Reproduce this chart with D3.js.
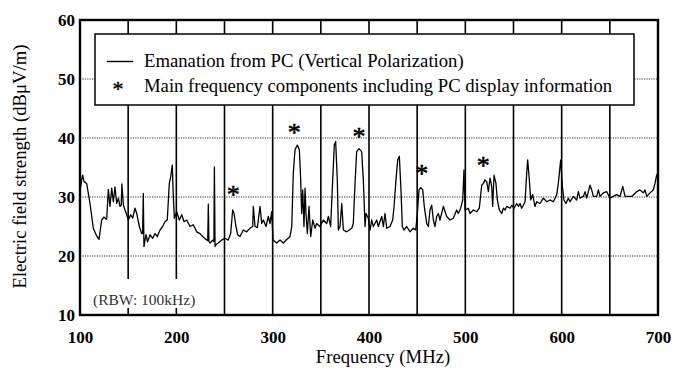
<!DOCTYPE html>
<html>
<head>
<meta charset="utf-8">
<script src="https://cdn.jsdelivr.net/npm/d3@7"></script>
<style>
    body { margin: 0; background: #fff; }
</style>
</head>
<body>
<div id="chart"></div>
<script>

var SERIF = "'Liberation Serif', 'Times New Roman', serif";

// axis ticks
var freqTicks = [100, 200, 300, 400, 500, 600, 700];
var levelTicks = [10, 20, 30, 40, 50, 60];
var gridFreqs = [150, 200, 250, 300, 350, 400, 450, 500, 550, 600, 650];
var gridLevels = [20, 30, 40, 50];

// measured trace (MHz, dBuV/m)
var freq = [100.0, 100.7, 101.7, 102.8, 104.2, 106.9, 110.4, 113.8, 117.3, 119.7,
    122.5, 124.9, 127.7, 129.4, 131.1, 132.9, 134.6, 136.3, 138.1, 139.8,
    141.5, 142.8, 143.5, 145.0, 146.7, 148.5, 150.2, 152.6, 154.7, 157.1,
    158.9, 161.6, 164.0, 165.0, 165.7, 166.4, 168.5, 170.2, 172.7, 175.5,
    177.9, 180.3, 183.0, 185.8, 188.2, 190.6, 192.7, 194.1, 195.8, 196.9,
    197.9, 200.4, 203.1, 205.6, 208.0, 210.8, 214.2, 217.6, 221.1, 224.6,
    227.4, 230.0, 232.6, 233.2, 233.8, 235.0, 237.7, 239.0, 239.5, 240.2,
    241.5, 243.6, 247.1, 250.5, 253.9, 256.4, 258.5, 259.9, 261.9, 263.7,
    266.1, 269.5, 273.0, 276.5, 279.3, 279.9, 281.7, 284.1, 286.9, 288.6,
    290.3, 293.1, 295.5, 297.2, 299.0, 300.4, 304.2, 307.6, 311.1, 314.6,
    318.0, 319.8, 321.4, 323.2, 325.6, 327.7, 329.1, 330.1, 331.2, 332.5,
    333.6, 334.6, 336.0, 337.7, 339.5, 341.6, 344.0, 345.7, 349.1, 352.6,
    356.1, 357.8, 360.2, 362.3, 364.0, 365.4, 367.1, 368.2, 369.9, 371.7,
    373.4, 376.9, 382.1, 383.7, 385.5, 387.2, 389.6, 392.4, 394.1, 395.9,
    396.9, 399.3, 401.1, 402.8, 404.5, 408.0, 409.7, 413.2, 414.9, 416.6,
    418.4, 421.8, 424.6, 426.0, 428.0, 429.8, 431.5, 433.2, 434.6, 436.3,
    439.1, 442.6, 446.0, 448.5, 450.2, 451.9, 453.7, 455.8, 457.4, 459.9,
    461.6, 463.3, 465.1, 466.8, 468.5, 470.3, 472.0, 473.7, 477.2, 480.7,
    484.1, 487.5, 491.0, 492.7, 495.2, 497.3, 498.6, 499.7, 503.1, 504.9,
    508.3, 511.8, 514.5, 517.0, 518.7, 520.4, 522.2, 523.9, 525.6, 527.4,
    528.4, 529.8, 531.8, 533.2, 535.3, 537.8, 539.5, 541.2, 543.0, 546.4,
    548.2, 550.5, 553.3, 555.1, 556.8, 558.5, 560.2, 562.0, 563.7, 564.7,
    566.4, 567.9, 569.9, 572.3, 574.1, 577.5, 581.0, 584.5, 587.9, 591.4,
    594.9, 596.5, 599.0, 600.7, 602.4, 604.5, 606.9, 608.7, 612.1, 615.6,
    617.3, 619.1, 622.5, 624.3, 626.0, 629.4, 631.2, 632.9, 636.4, 638.1,
    639.8, 643.2, 646.8, 650.2, 653.6, 657.1, 660.6, 663.4, 665.8, 669.2,
    672.7, 677.9, 681.3, 684.8, 686.5, 688.3, 691.7, 695.1, 696.9, 698.6,
    700.0];
var level = [31.9, 31.7, 32.9, 33.7, 32.6, 32.3, 28.9, 24.7, 23.4, 22.8,
    26.1, 26.6, 26.2, 31.3, 28.4, 31.5, 29.2, 31.7, 28.9, 29.8,
    28.4, 28.6, 32.2, 28.7, 27.8, 27.0, 26.1, 27.0, 26.4, 28.1,
    27.2, 25.0, 23.8, 23.8, 30.6, 21.6, 23.6, 22.4, 23.6, 23.0,
    23.8, 23.3, 24.4, 25.0, 25.8, 26.1, 32.3, 33.4, 35.4, 30.1,
    26.4, 27.5, 26.1, 27.0, 25.8, 26.1, 25.0, 25.3, 24.1, 23.8,
    23.3, 22.9, 22.6, 28.8, 22.5, 22.2, 22.7, 22.4, 35.1, 21.6,
    22.0, 22.2, 22.7, 23.0, 22.7, 23.8, 27.8, 27.2, 25.0, 23.6,
    23.3, 24.4, 24.1, 24.7, 25.0, 28.4, 25.0, 24.8, 28.4, 25.5,
    26.1, 25.0, 26.7, 25.5, 27.5, 22.7, 22.2, 22.7, 22.2, 22.8,
    23.3, 25.0, 34.0, 38.0, 38.8, 38.0, 32.9, 27.2, 31.2, 25.0,
    31.5, 27.2, 23.8, 28.4, 23.3, 26.1, 24.7, 25.5, 25.0, 26.1,
    25.5, 26.7, 25.0, 32.9, 38.8, 39.4, 32.9, 24.4, 25.0, 28.9,
    24.4, 24.1, 24.7, 25.5, 32.3, 37.7, 38.2, 37.7, 32.9, 25.0,
    27.2, 26.4, 24.4, 26.1, 25.0, 26.1, 25.0, 26.7, 25.0, 27.2,
    24.7, 25.0, 26.1, 28.4, 32.9, 36.3, 36.9, 31.2, 25.0, 24.4,
    25.0, 24.1, 24.7, 24.4, 27.2, 31.2, 31.6, 31.2, 28.4, 25.5,
    25.0, 27.8, 28.6, 26.1, 25.0, 26.7, 27.2, 26.1, 28.4, 26.7,
    26.1, 26.4, 27.8, 27.2, 28.1, 29.5, 34.6, 27.8, 28.1, 27.2,
    27.8, 27.5, 28.1, 32.0, 32.3, 32.9, 32.6, 30.9, 33.2, 31.8,
    28.4, 33.7, 32.3, 29.5, 27.8, 27.2, 28.1, 27.8, 28.4, 28.1,
    28.6, 28.1, 28.9, 28.4, 28.9, 28.1, 28.6, 29.2, 34.0, 36.3,
    33.0, 29.5, 30.4, 28.4, 29.2, 28.9, 29.8, 29.2, 29.5, 29.2,
    30.4, 32.3, 36.3, 31.8, 29.5, 28.9, 29.8, 29.2, 30.1, 29.5,
    30.9, 29.8, 30.1, 30.9, 29.8, 32.0, 31.2, 30.1, 30.1, 31.2,
    30.1, 30.7, 30.9, 29.8, 30.1, 30.4, 30.1, 31.8, 30.1, 30.1,
    30.1, 30.9, 31.2, 30.7, 31.2, 30.1, 30.7, 31.2, 32.3, 33.7,
    34.0];

// asterisk markers: main frequency components
var markFreq = [259.2, 322.5, 389.6, 454.7, 518.7];
var markLevel = [31.0, 41.5, 40.9, 34.5, 35.9];

var legendLabels = ["Emanation from PC (Vertical Polarization)",
    "Main frequency components including PC display information"];

var width = 675, height = 372;
var margin = {top: 20, right: 17, bottom: 57, left: 80};

var svg = d3.select("#chart").append("svg")
    .attr("width", width)
    .attr("height", height)
    .style("font-family", SERIF);

var x = d3.scaleLinear().domain([100, 700]).range([margin.left, width - margin.right]);
var y = d3.scaleLinear().domain([10, 60]).range([height - margin.bottom, margin.top]);

// dotted horizontal grid
svg.append("g").selectAll("line")
    .data(gridLevels)
    .enter().append("line")
    .attr("x1", x(100)).attr("x2", x(700))
    .attr("y1", function(d){ return y(d); })
    .attr("y2", function(d){ return y(d); })
    .attr("stroke", "#333")
    .attr("stroke-width", 1.2)
    .attr("stroke-dasharray", "1.2,1.2");

// solid vertical grid
svg.append("g").selectAll("line")
    .data(gridFreqs)
    .enter().append("line")
    .attr("x1", function(d){ return x(d); })
    .attr("x2", function(d){ return x(d); })
    .attr("y1", y(60)).attr("y2", y(10))
    .attr("stroke", "#000")
    .attr("stroke-width", 1.6);

// trace
var pts = freq.map(function(f, i){ return [f, level[i]]; });
var line = d3.line()
    .x(function(d){ return x(d[0]); })
    .y(function(d){ return y(d[1]); });

svg.append("path")
    .datum(pts)
    .attr("d", line)
    .attr("fill", "none")
    .attr("stroke", "#000")
    .attr("stroke-width", 1.3)
    .attr("stroke-linejoin", "round");

// asterisks
svg.append("g").selectAll("text")
    .data(markFreq)
    .enter().append("text")
    .attr("x", function(d){ return x(d); })
    .attr("y", function(d, i){ return y(markLevel[i]) + 12; })
    .attr("text-anchor", "middle")
    .style("font-family", SERIF)
    .style("font-size", "26px")
    .attr("stroke", "#000")
    .attr("stroke-width", 0.6)
    .text("*");

// RBW note with white box
svg.append("rect")
    .attr("x", 86).attr("y", 279)
    .attr("width", 120).attr("height", 29)
    .attr("fill", "#fff");
svg.append("text")
    .attr("x", 93).attr("y", 305)
    .style("font-family", SERIF)
    .style("font-size", "15.5px")
    .attr("fill", "#333")
    .text("(RBW: 100kHz)");

// legend
var legend = svg.append("g");
legend.append("rect")
    .attr("x", 95).attr("y", 34)
    .attr("width", 539).attr("height", 71)
    .attr("fill", "#fff")
    .attr("stroke", "#000")
    .attr("stroke-width", 1.5);
legend.append("line")
    .attr("x1", 107).attr("x2", 133)
    .attr("y1", 61.5).attr("y2", 61.5)
    .attr("stroke", "#000")
    .attr("stroke-width", 1.4);
legend.append("text")
    .attr("x", 118).attr("y", 96)
    .attr("text-anchor", "middle")
    .style("font-family", SERIF)
    .style("font-size", "22px")
    .attr("stroke", "#000")
    .attr("stroke-width", 0.4)
    .text("*");
legend.selectAll(".lbl")
    .data(legendLabels)
    .enter().append("text")
    .attr("class", "lbl")
    .attr("x", 144)
    .attr("y", function(d, i){ return 66.5 + i * 25.5; })
    .style("font-family", SERIF)
    .style("font-size", "18.7px")
    .text(function(d){ return d; });

// frame
svg.append("rect")
    .attr("x", x(100)).attr("y", y(60))
    .attr("width", x(700) - x(100)).attr("height", y(10) - y(60))
    .attr("fill", "none")
    .attr("stroke", "#000")
    .attr("stroke-width", 2.4);

// axes labels
var xAxis = svg.append("g")
    .attr("transform", "translate(0," + y(10) + ")")
    .call(d3.axisBottom(x).tickValues(freqTicks).tickSize(0).tickPadding(16));
var yAxis = svg.append("g")
    .attr("transform", "translate(" + x(100) + ",0)")
    .call(d3.axisLeft(y).tickValues(levelTicks).tickSize(0).tickPadding(5));

[xAxis, yAxis].forEach(function(a){
    a.select(".domain").remove();
    a.selectAll("text")
        .style("font-family", SERIF)
        .style("font-size", "17px")
        .style("font-weight", "bold")
        .attr("fill", "#000");
});

svg.append("text")
    .attr("x", 383).attr("y", 363)
    .attr("text-anchor", "middle")
    .style("font-family", SERIF)
    .style("font-size", "18.7px")
    .text("Frequency (MHz)");

svg.append("text")
    .attr("transform", "translate(26," + 166.5 + ") rotate(-90)")
    .attr("text-anchor", "middle")
    .style("font-family", SERIF)
    .style("font-size", "18.7px")
    .text("Electric field strength (dBμV/m)");

</script>
</body>
</html>
